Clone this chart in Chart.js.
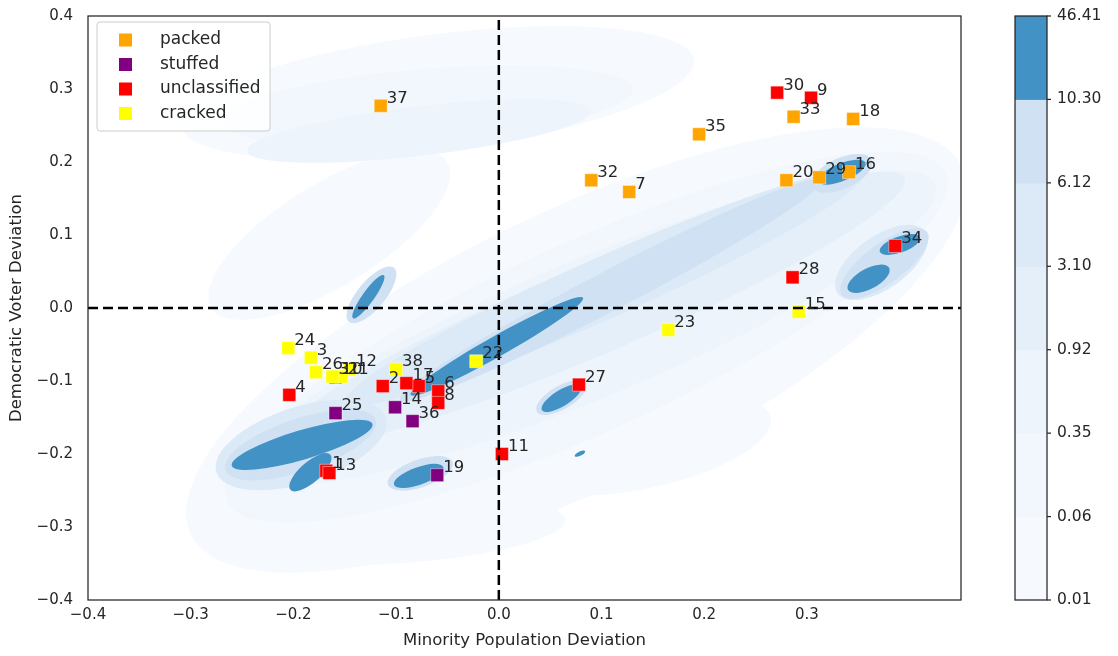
<!DOCTYPE html>
<html>
<head>
<meta charset="utf-8">
<script src="https://cdn.jsdelivr.net/npm/chart.js@4.4.1/dist/chart.umd.min.js"></script>
<style>
html,body{margin:0;padding:0;background:#ffffff;}
#wrap{width:1118px;height:656px;}
</style>
</head>
<body>
<div id="wrap"><canvas id="c" width="1118" height="656"></canvas></div>
<script>
// ---------- data ----------
const districts = [1,2,3,4,5,6,7,8,9,10,11,12,13,14,15,16,17,18,19,20,21,22,23,24,25,26,27,28,29,30,31,32,33,34,35,36,37,38];
const minorityDev = [-0.168,-0.113,-0.183,-0.204,-0.078,-0.059,0.127,-0.059,0.304,-0.159,
                      0.003,-0.145,-0.165,-0.101,0.292,0.341,-0.090,0.345,-0.060,0.280,
                     -0.153,-0.022,0.165,-0.205,-0.159,-0.178,0.078,0.286,0.312,0.271,
                     -0.162,0.090,0.287,0.386,0.195,-0.084,-0.115,-0.100];
const democraticDev = [-0.223,-0.107,-0.068,-0.119,-0.107,-0.114,0.159,-0.130,0.288,-0.095,
                       -0.200,-0.084,-0.226,-0.136,-0.005,0.186,-0.103,0.259,-0.229,0.175,
                       -0.094,-0.073,-0.030,-0.055,-0.144,-0.088,-0.105,0.042,0.179,0.295,
                       -0.094,0.175,0.262,0.085,0.238,-0.155,0.277,-0.084];
const districtClass = ['unclassified','unclassified','cracked','unclassified','unclassified','unclassified','packed','unclassified','unclassified','unclassified',
                       'unclassified','cracked','unclassified','stuffed','cracked','packed','unclassified','packed','stuffed','packed',
                       'cracked','cracked','cracked','cracked','stuffed','cracked','unclassified','unclassified','packed','unclassified',
                       'cracked','packed','packed','unclassified','packed','stuffed','packed','cracked'];
const categories = ['packed','stuffed','unclassified','cracked'];
const categoryColors = ['#ffa500','#800080','#ff0000','#ffff00'];

// density contour bands (colorbar levels)
const cbarTickLabels = ['0.01','0.06','0.35','0.92','3.10','6.12','10.30','46.41'];
const kdeLevelColors = ['#f6faff','#f2f7fd','#edf4fb','#e5eff9','#dce9f6','#cfe1f2','#4292c6'];
// blobs: [x1, y1, x2, y2, halfWidth, level]  (data units)
const kdeBlobs = [
  [-0.300,-0.310, 0.450, 0.195, 0.19, 0],
  [-0.310, 0.250, 0.190, 0.340, 0.080, 0],
  [-0.280, 0.000, -0.050, 0.200, 0.07, 0],
  [-0.265,-0.320, 0.065,-0.290, 0.045, 0],
  [ 0.015,-0.225, 0.265,-0.150, 0.060, 0],
  [-0.265,-0.265, 0.435, 0.185, 0.13, 1],
  [-0.270, 0.255, 0.130, 0.300, 0.050, 1],
  [-0.245,-0.225, 0.425, 0.170, 0.095, 2],
  [-0.245, 0.215, 0.090, 0.270, 0.034, 2],
  [-0.215,-0.185, 0.395, 0.178, 0.062, 3],
  [-0.150,-0.130, 0.355, 0.185, 0.042, 4],
  [-0.275,-0.225,-0.110,-0.150, 0.052, 4],
  [ 0.330, 0.020, 0.415, 0.105, 0.036, 4],
  [-0.096,-0.126, 0.314, 0.175, 0.027, 5],
  [-0.266,-0.222,-0.120,-0.153, 0.036, 5],
  [-0.146,-0.019,-0.102, 0.055, 0.019, 5],
  [-0.108,-0.242,-0.045,-0.211, 0.019, 5],
  [ 0.037,-0.142, 0.085,-0.103, 0.016, 5],
  [ 0.305, 0.166, 0.363, 0.203, 0.021, 5],
  [ 0.334, 0.018, 0.417, 0.104, 0.027, 5],
  [-0.142,-0.014,-0.112, 0.045, 0.008, 6],
  [-0.086,-0.119, 0.082, 0.014, 0.014, 6],
  [-0.260,-0.216,-0.123,-0.159, 0.020, 6],
  [-0.203,-0.249,-0.164,-0.201, 0.014, 6],
  [-0.102,-0.242,-0.054,-0.218, 0.012, 6],
  [ 0.042,-0.140, 0.080,-0.107, 0.011, 6],
  [ 0.074,-0.203, 0.084,-0.196, 0.003, 6],
  [ 0.311, 0.173, 0.357, 0.199, 0.012, 6],
  [ 0.371, 0.077, 0.410, 0.097, 0.011, 6],
  [ 0.340, 0.025, 0.380, 0.055, 0.014, 6]
];
const refX = 0, refY = 0;

// ---------- helpers ----------
const FONT = "'DejaVu Sans', sans-serif";
const TXT = '#262626';
const colorOf = c => categoryColors[categories.indexOf(c)];
const fmt = v => { const r = Math.round(v * 10) / 10; return (r < 0 ? '\u2212' : '') + Math.abs(r).toFixed(1); };
const onStep = s => { s.ticks = s.ticks.filter(t => Math.abs(t.value * 10 - Math.round(t.value * 10)) < 1e-6); };

const kdePlugin = {
  id: 'kde',
  beforeDatasetsDraw(chart) {
    const {ctx, chartArea: a, scales: {x, y}} = chart;
    ctx.save();
    ctx.beginPath(); ctx.rect(a.left, a.top, a.right - a.left, a.bottom - a.top); ctx.clip();
    for (let lv = 0; lv < kdeLevelColors.length; lv++) {
      ctx.fillStyle = kdeLevelColors[lv];
      kdeBlobs.filter(b => b[5] === lv).forEach(b => {
        const x1 = x.getPixelForValue(b[0]), y1 = y.getPixelForValue(b[1]);
        const x2 = x.getPixelForValue(b[2]), y2 = y.getPixelForValue(b[3]);
        const hw = Math.abs(y.getPixelForValue(0) - y.getPixelForValue(b[4]));
        const ra = Math.hypot(x2 - x1, y2 - y1) / 2;
        ctx.beginPath();
        ctx.ellipse((x1 + x2) / 2, (y1 + y2) / 2, Math.max(ra, hw), hw, Math.atan2(y2 - y1, x2 - x1), 0, Math.PI * 2);
        ctx.fill();
      });
    }
    ctx.restore();
  }
};

const overlayPlugin = {
  id: 'overlay',
  afterDatasetsDraw(chart) {
    const {ctx, chartArea: a, scales: {x, y}} = chart;
    // dashed reference lines
    ctx.save();
    ctx.strokeStyle = '#000000'; ctx.lineWidth = 2.5; ctx.setLineDash([10, 5]);
    const py = y.getPixelForValue(refY), px = x.getPixelForValue(refX);
    ctx.beginPath(); ctx.moveTo(a.left, py); ctx.lineTo(a.right, py); ctx.stroke();
    ctx.beginPath(); ctx.moveTo(px, a.bottom); ctx.lineTo(px, a.top); ctx.stroke();
    ctx.restore();
    // point labels
    const meta = chart.getDatasetMeta(0);
    ctx.save();
    ctx.font = '16.5px ' + FONT; ctx.fillStyle = TXT; ctx.textAlign = 'left'; ctx.textBaseline = 'alphabetic';
    meta.data.forEach((pt, i) => { ctx.fillText(String(districts[i]), pt.x + 6, pt.y - 3); });
    ctx.restore();
    // frame
    ctx.save();
    ctx.strokeStyle = TXT; ctx.lineWidth = 1.25;
    ctx.strokeRect(a.left, a.top, a.right - a.left, a.bottom - a.top);
    ctx.restore();
    // legend
    ctx.save();
    const lx = a.left + 9, ly = a.top + 6, lw = 173, lh = 109;
    ctx.fillStyle = 'rgba(255,255,255,0.85)'; ctx.strokeStyle = '#cccccc'; ctx.lineWidth = 1;
    ctx.beginPath(); ctx.roundRect(lx, ly, lw, lh, 3); ctx.fill(); ctx.stroke();
    ctx.font = '17px ' + FONT; ctx.textBaseline = 'middle'; ctx.textAlign = 'left';
    categories.forEach((c, i) => {
      const cy = ly + 18 + i * 24.5;
      ctx.fillStyle = categoryColors[i];
      ctx.fillRect(lx + 22, cy - 6.5, 13, 13);
      ctx.fillStyle = TXT;
      ctx.fillText(c, lx + 63, cy);
    });
    ctx.restore();
    // colorbar
    ctx.save();
    const cx0 = 1015, cw = 32, top = a.top, bot = a.bottom;
    const n = kdeLevelColors.length, seg = (bot - top) / n;
    for (let i = 0; i < n; i++) {
      ctx.fillStyle = kdeLevelColors[i];
      ctx.fillRect(cx0, bot - (i + 1) * seg, cw, seg + 0.5);
    }
    ctx.strokeStyle = TXT; ctx.lineWidth = 1.25;
    ctx.strokeRect(cx0, top, cw, bot - top);
    ctx.font = '15.5px ' + FONT; ctx.fillStyle = TXT; ctx.textBaseline = 'middle'; ctx.textAlign = 'left';
    cbarTickLabels.forEach((t, i) => {
      const ty = bot - i * seg;
      ctx.beginPath(); ctx.moveTo(cx0 + cw, ty); ctx.lineTo(cx0 + cw + 4, ty); ctx.stroke();
      ctx.fillText(t, cx0 + cw + 10, ty);
    });
    ctx.restore();
  }
};

const pts = districts.map((d, i) => ({x: minorityDev[i], y: democraticDev[i]}));
const ptColors = districtClass.map(colorOf);

new Chart(document.getElementById('c'), {
  type: 'scatter',
  data: {
    datasets: [{
      label: 'districts',
      data: pts,
      pointStyle: 'rect',
      pointRadius: 9.2,
      pointHoverRadius: 9.2,
      pointBackgroundColor: ptColors,
      pointBorderColor: 'rgba(255,255,255,0.7)',
      pointBorderWidth: 0.6
    }]
  },
  options: {
    responsive: false,
    animation: false,
    events: [],
    layout: {padding: {left: 0, right: 157, top: 16, bottom: 0}},
    plugins: {legend: {display: false}, tooltip: {enabled: false}},
    scales: {
      x: {
        type: 'linear', min: -0.4, max: 0.45,
        grid: {display: false, drawTicks: false},
        border: {display: false},
        ticks: {stepSize: 0.1, padding: 6, color: TXT, font: {family: FONT, size: 15}, callback: fmt},
        title: {display: true, text: 'Minority Population Deviation', color: TXT, font: {family: FONT, size: 16.5}, padding: {top: 0, bottom: 5}},
        afterBuildTicks: onStep,
        afterFit: s => { s.height = 56; s.paddingLeft = 0; s.paddingRight = 0; }
      },
      y: {
        type: 'linear', min: -0.4, max: 0.4,
        grid: {display: false, drawTicks: false},
        border: {display: false},
        ticks: {stepSize: 0.1, padding: 15, color: TXT, font: {family: FONT, size: 15}, callback: fmt},
        title: {display: true, text: 'Democratic Voter Deviation', color: TXT, font: {family: FONT, size: 16.5}, padding: {top: 7, bottom: 0}},
        afterBuildTicks: onStep,
        afterFit: s => { s.width = 88; s.paddingTop = 0; s.paddingBottom = 0; }
      }
    }
  },
  plugins: [kdePlugin, overlayPlugin]
});
</script>
</body>
</html>
